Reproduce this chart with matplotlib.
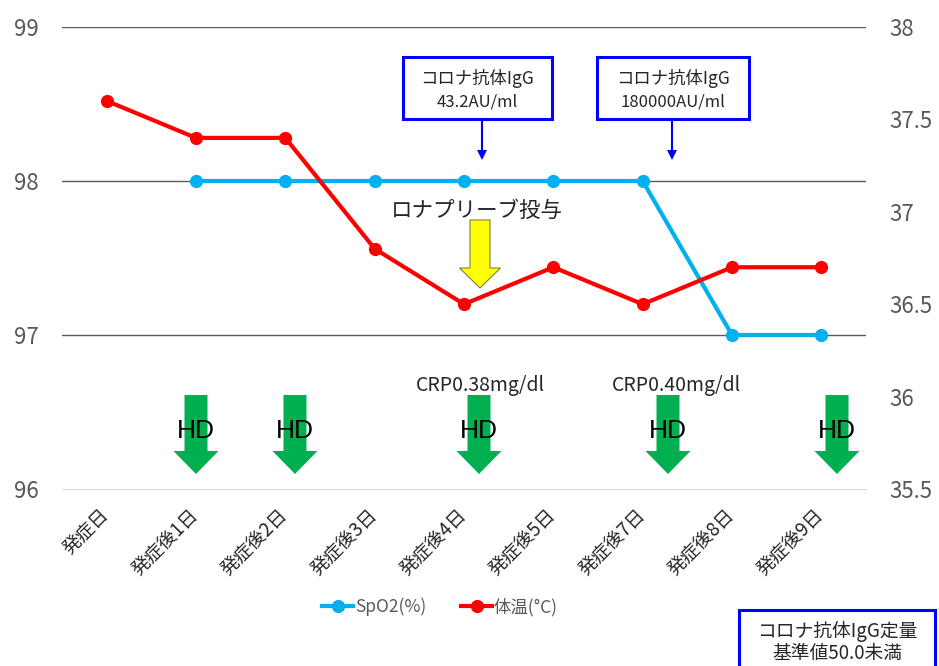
import matplotlib
matplotlib.use('Agg')
import matplotlib.pyplot as plt
from matplotlib.patches import Polygon, Rectangle
from matplotlib.lines import Line2D
import numpy as np

plt.rcParams['font.family'] = ['Noto Sans CJK JP', 'DejaVu Sans']

W, H = 939, 666

days = ['発症日', '発症後1日', '発症後2日', '発症後3日', '発症後4日',
        '発症後5日', '発症後7日', '発症後8日', '発症後9日']
spo2 = [np.nan, 98, 98, 98, 98, 98, 98, 97, 97]
temp = [37.6, 37.4, 37.4, 36.8, 36.5, 36.7, 36.5, 36.7, 36.7]
left_ticks = [96, 97, 98, 99]
right_ticks = [35.5, 36, 36.5, 37, 37.5, 38]

grey = '#595959'
blue_c = '#00B0F0'
red_c = '#FF0000'


def fpx(x, y):
    # pixel position (from top left) -> figure fraction
    return (x / W, 1 - y / H)


fig = plt.figure(figsize=(W / 100, H / 100), dpi=100)
ax = fig.add_axes([62 / W, 1 - 489 / H, 804 / W, 462 / H])
ax2 = ax.twinx()

x = np.arange(len(days))
l1, = ax.plot(x, spo2, color=blue_c, lw=3, marker='o', ms=8.5, label='SpO2(%)')
l2, = ax2.plot(x, temp, color=red_c, lw=3, marker='o', ms=8.5, label='体温(°C)')

ax.set_xlim(-0.5, len(days) - 0.5)
ax.set_ylim(96, 99)
ax2.set_ylim(35.5, 38)
ax.set_yticks(left_ticks)
ax.set_yticklabels([str(v) for v in left_ticks])
ax2.set_yticks(right_ticks)
ax2.set_yticklabels(['%g' % v for v in right_ticks])

ax.yaxis.grid(True, color=grey, lw=1)
ax.get_ygridlines()[0].set_visible(False)
ax.set_axisbelow(True)

for a in (ax, ax2):
    for s in ('top', 'left', 'right'):
        a.spines[s].set_visible(False)
    a.spines['bottom'].set_color('#d9d9d9')
    a.tick_params(length=0, labelcolor=grey)
ax2.spines['bottom'].set_visible(False)

ax.tick_params(axis='y', labelsize=16, pad=17)
ax2.tick_params(axis='y', labelsize=16, pad=17)
ax.set_xticks(x)
ax.set_xticklabels(days, rotation=45, ha='right', va='center',
                   rotation_mode='anchor', fontsize=13.5, color='#262626')
ax.tick_params(axis='x', pad=17)

fig.legend(handles=[l1, l2], loc='center', bbox_to_anchor=fpx(440, 607),
           ncol=2, frameon=False, fontsize=12.5, labelcolor=grey,
           handlelength=1.8, handletextpad=0.1, columnspacing=2.0)


def down_arrow(cx, top, head_y, tip, sw, hw, fc, ec='none', lw=0):
    pts = [(cx - sw / 2, top), (cx + sw / 2, top), (cx + sw / 2, head_y),
           (cx + hw / 2, head_y), (cx, tip), (cx - hw / 2, head_y),
           (cx - sw / 2, head_y)]
    fig.add_artist(Polygon([fpx(*p) for p in pts], closed=True,
                           transform=fig.transFigure, fc=fc, ec=ec, lw=lw))


# HD arrows
hd_x = [196, 295, 479, 668, 837]
for cx in hd_x:
    down_arrow(cx, 395, 451, 474, 23, 45, '#00B050')
    fig.text(*fpx(cx, 431), 'HD', fontsize=19, ha='center', va='center',
             color='black', family=['Liberation Sans', 'DejaVu Sans'])

# CRP notes
fig.text(*fpx(480, 385), 'CRP0.38mg/dl', fontsize=14, ha='center',
         va='center', color='#262626')
fig.text(*fpx(676, 385), 'CRP0.40mg/dl', fontsize=14, ha='center',
         va='center', color='#262626')

# drug arrow
fig.text(*fpx(477, 211), 'ロナプリーブ投与', fontsize=15.5, ha='center',
         va='center', color='#262626')
down_arrow(480, 220, 268, 288, 20, 41, '#FFFF00', ec='#7f7f3f', lw=0.8)

# antibody boxes
boxes = [(403, 552, 482, ['コロナ抗体IgG', '43.2AU/ml']),
         (597, 749, 672, ['コロナ抗体IgG', '180000AU/ml'])]
for x0, x1, ax_x, lines in boxes:
    fig.add_artist(Rectangle(fpx(x0, 119), (x1 - x0) / W, 62 / H,
                             transform=fig.transFigure, fc='white',
                             ec='#0000FF', lw=2.2))
    fig.text(*fpx((x0 + x1) / 2, 79), lines[0], fontsize=12.5, ha='center',
             va='center', color='#262626')
    fig.text(*fpx((x0 + x1) / 2, 102), lines[1], fontsize=12, ha='center',
             va='center', color='#262626')
    fig.add_artist(Line2D([ax_x / W, ax_x / W], [1 - 119 / H, 1 - 152 / H],
                          transform=fig.transFigure, color='#0000FF', lw=1.5))
    fig.add_artist(Polygon([fpx(ax_x - 5, 150), fpx(ax_x + 5, 150),
                            fpx(ax_x, 160)], closed=True,
                           transform=fig.transFigure, fc='#0000FF', ec='none'))

# reference range box
fig.add_artist(Rectangle(fpx(739, 680), 196 / W, 70 / H,
                         transform=fig.transFigure, fc='white',
                         ec='#0000FF', lw=2.2))
fig.text(*fpx(837, 631), 'コロナ抗体IgG定量', fontsize=13.5, ha='center',
         va='center', color='#262626')
fig.text(*fpx(837, 653), '基準値50.0未満', fontsize=13.5, ha='center',
         va='center', color='#262626')

fig.savefig('out.png', dpi=100)
